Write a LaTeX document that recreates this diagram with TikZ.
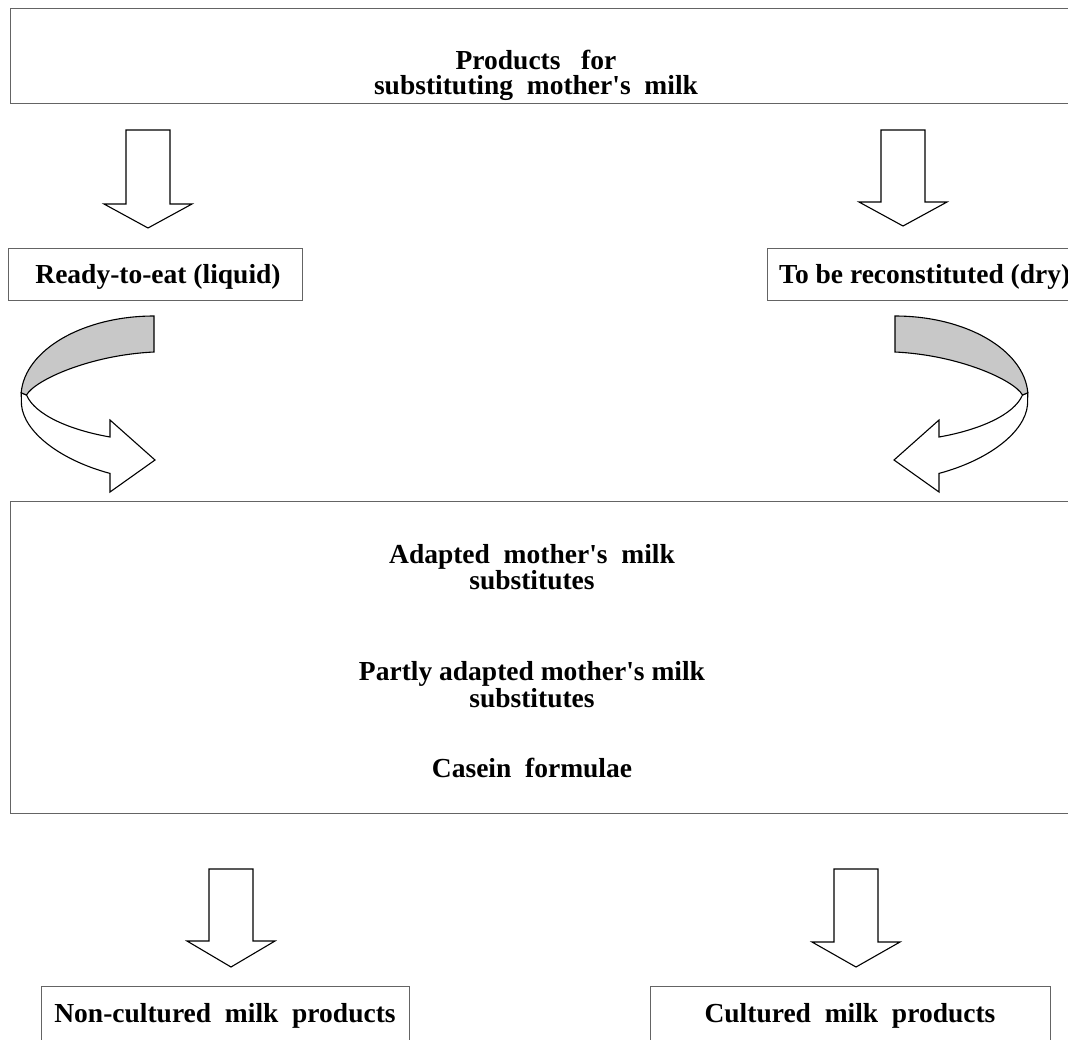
\documentclass[tikz,border=0pt]{standalone}
\usepackage{fontspec}
\setmainfont{Liberation Serif}[Ligatures=TeXOff]
\definecolor{boxgray}{RGB}{100,100,100}
\definecolor{ribbon}{RGB}{200,200,200}
\newcommand\blkdown[4]{%
  \draw[blk] (#1-22,#2) -- (#1+22,#2) -- (#1+22,#3) -- (#1+44,#3) -- (#1,#4)
    -- (#1-44,#3) -- (#1-22,#3) -- cycle;}
\newcommand\ribbonarrow{%
  \draw[blk] (21.2,392.8) -- (21.5,405) .. controls (24,432) and (60,460) .. (110,473.4)
    -- (110,492) -- (155,460) -- (110,420) -- (110,437)
    .. controls (70,430) and (35,415) .. (26.5,395) -- cycle;
  \draw[blk, fill=ribbon] (154,316) arc[start angle=270, end angle=183, x radius=133, y radius=81]
    -- (26.5,395) .. controls (35,380) and (90,355) .. (154,352) -- cycle;}
\begin{document}
\begin{tikzpicture}[x=1pt,y=-1pt,
  box/.style={draw=boxgray, line width=1.4pt, inner sep=0pt, anchor=north west},
  lbl/.style={font=\bfseries\fontsize{27.5}{31}\selectfont, inner sep=0pt, anchor=base},
  lbltwo/.style={font=\bfseries\fontsize{27.5}{22}\selectfont, inner sep=0pt, anchor=base},
  blk/.style={draw=black, line width=1.1pt, fill=white, line join=miter}]
\useasboundingbox (0,0) rectangle (1068,1039);
\clip (0,0) rectangle (1068,1039);
\fill[white] (0,0) rectangle (1068,1039);
% boxes
\node[box, minimum width=1090, minimum height=95] (top) at (10,8) {};
\node[box, minimum width=294, minimum height=52] (ready) at (8,248) {};
\node[box, minimum width=330, minimum height=52] (dry) at (767,248) {};
\node[box, minimum width=1090, minimum height=312] (mid) at (10,501) {};
\node[box, minimum width=368, minimum height=80] (noncult) at (41,986) {};
\node[box, minimum width=400, minimum height=80] (cult) at (650,986) {};
% texts
\node[lbltwo] (t1) at (536,69) {\begin{tabular}[t]{@{}c@{}}Products\ \ \ for\\substituting\ \ mother's\ \ milk\end{tabular}};
\node[lbl] (tr) at (158,283) {Ready-to-eat (liquid)};
\node[lbl, anchor=base west] (td) at (779,283) {To be reconstituted (dry)};
\node[lbl] (m1) at (532,563) {Adapted\ \ mother's\ \ milk};
\node[lbl] (m2) at (532,589) {substitutes};
\node[lbl] (m3) at (532,680) {Partly adapted mother's milk};
\node[lbl] (m4) at (532,707) {substitutes};
\node[lbl] (m5) at (532,777) {Casein\ \ formulae};
\node[lbl] (tn) at (225,1022) {Non-cultured\ \ milk\ \ products};
\node[lbl] (tc) at (850,1022) {Cultured\ \ milk\ \ products};
% block arrows
\blkdown{148}{130}{204}{228}
\blkdown{903}{130}{202}{226}
\blkdown{231}{869}{941}{967}
\blkdown{856}{869}{942}{967}
% curved ribbon arrows
\ribbonarrow
\begin{scope}[xshift=1049pt, xscale=-1]
\ribbonarrow
\end{scope}
\end{tikzpicture}
\end{document}
